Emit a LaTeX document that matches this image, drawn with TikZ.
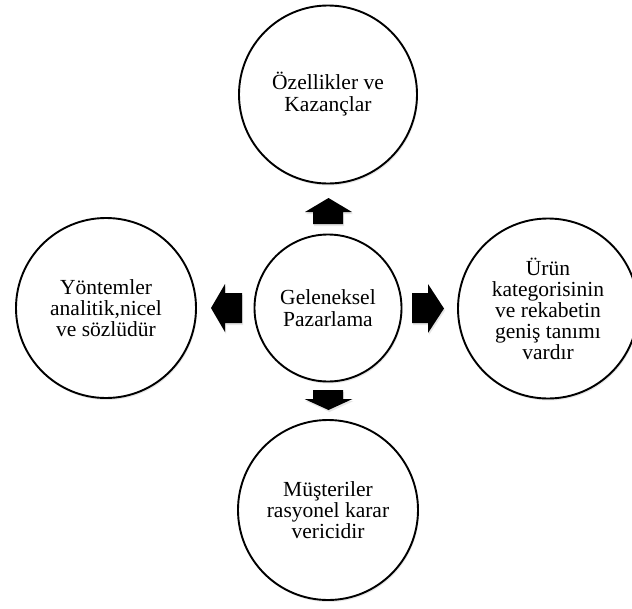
\documentclass[tikz,border=0pt]{standalone}
\usepackage{fontspec}
\setmainfont{Liberation Serif}
\usetikzlibrary{shadows}
\begin{document}
\begin{tikzpicture}[x=1pt,y=-1pt,
  bubble/.style={circle, draw=black, line width=1.9pt, fill=white, align=center,
    inner sep=0pt, font=\fontsize{21.5}{#1}\selectfont,
    drop shadow={opacity=0.2, shadow xshift=1pt, shadow yshift=-2pt}},
  bubble/.default=21,
  blockarrow/.style={fill=black, drop shadow={opacity=0.2, shadow xshift=1pt, shadow yshift=-2pt}}]
\useasboundingbox (0,0) rectangle (632,608);
\node[bubble=22.5, minimum size=147pt] (center) at (328,308) {Geleneksel\\Pazarlama};
\node[bubble=22, minimum size=178pt] (top) at (328,94.5) {Özellikler ve\\Kazançlar};
\node[bubble=21, minimum size=180pt] (left) at (106,308) {Yöntemler\\analitik,nicel\\ve sözlüdür};
\node[bubble=21, minimum size=180pt] (right) at (548,308.5) {Ürün\\kategorisinin\\ve rekabetin\\geniş tanımı\\vardır};
\node[bubble=21, minimum size=180pt] (bottom) at (328,510) {Müşteriler\\rasyonel karar\\vericidir};
% block arrows
\path[blockarrow] (313,224) -- (313,212) -- (305,212) -- (328.5,198) -- (352,212) -- (343,212) -- (343,224) -- cycle;
\path[blockarrow] (242,293) -- (225,293) -- (225,284) -- (211,308) -- (225,332) -- (225,323) -- (242,323) -- cycle;
\path[blockarrow] (412,293) -- (428,293) -- (428,284) -- (444,308.5) -- (428,333) -- (428,323) -- (412,323) -- cycle;
\path[blockarrow] (313,390) -- (343,390) -- (343,399) -- (352.5,399) -- (328.5,410) -- (304.5,399) -- (313,399) -- cycle;
\end{tikzpicture}
\end{document}
